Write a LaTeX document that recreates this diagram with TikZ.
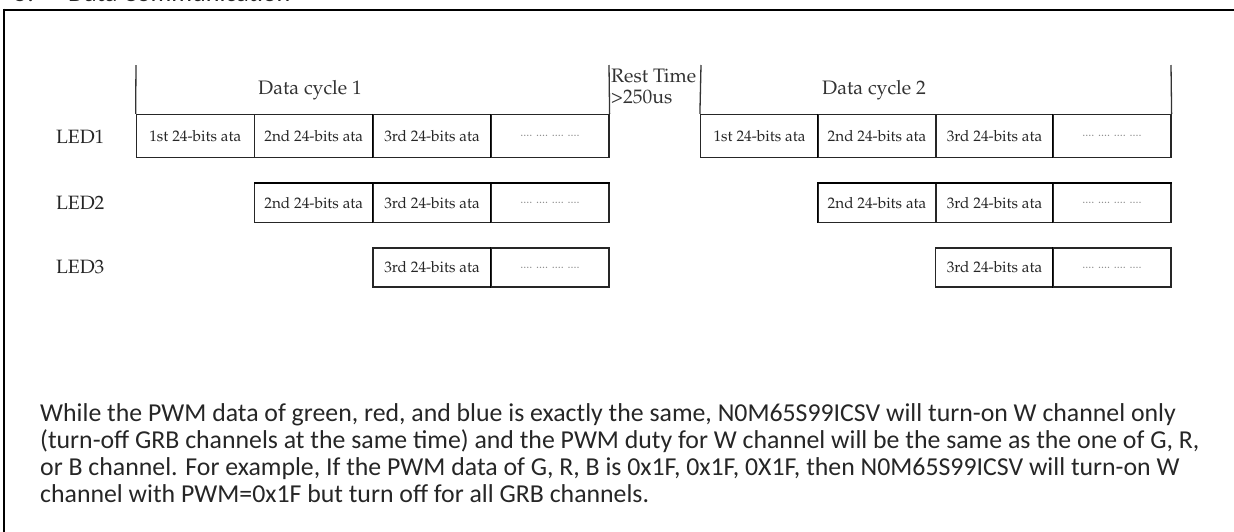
\documentclass[tikz,border=0pt]{standalone}
\usepackage[T1]{fontenc}
\usepackage{fontspec}
\newfontfamily\calfont{Carlito}
\newcommand\palfont{\fontencoding{T1}\fontfamily{ppl}\selectfont}
\tikzset{
  frameline/.style={line width=2.6pt, black},
  cell/.style={draw=black!85, line width=1.2pt, minimum width=118pt, inner sep=0pt,
    font=\palfont\fontsize{15.3}{17}\selectfont, text=black!85},
  hdr/.style={font=\palfont\fontsize{19.5}{21}\selectfont, text=black!80, inner sep=0pt},
  ledlbl/.style={font=\palfont\fontsize{19.3}{21}\selectfont, text=black!85, anchor=west, inner sep=0pt},
  hline/.style={draw=black!80, line width=1.3pt},
  thk/.style={draw=black, line width=2.4pt},
  para/.style={font=\calfont\fontsize{25.8}{27}\selectfont, text=black!85, anchor=base west, inner sep=0pt},
}
\newcommand\dotsrow{\textcolor{black!45}{\fontsize{12}{13}\selectfont .... .... .... ....}}
\begin{document}
\begin{tikzpicture}[x=1pt,y=-1pt]
\useasboundingbox (0,0) rectangle (1234,531);
% title (cut off at top, as in the reference)
\node[font=\calfont\fontsize{26}{28}\selectfont, anchor=base west, inner sep=0pt, text=black!85] (title5) at (14,1.5) {5.};
\node[font=\calfont\fontsize{26}{28}\selectfont, anchor=base west, inner sep=0pt, text=black!85] (title) at (68,1.5) {Data Communication};
% frame
\draw[frameline] (4,10) -- (1240,10);
\draw[frameline] (4,8.7) -- (4,540);
% header lines
\coordinate (h1a) at (136,65);
\coordinate (h1b) at (609,65);
\coordinate (h2a) at (701,65);
\coordinate (h2b) at (1171,65);
% LED1 cycle 1
\node[cell, minimum height=43pt] (a1) at (195.25,136) {1st 24-bits ata};
\node[cell, minimum height=43pt] (a2) at (313.75,136) {2nd 24-bits ata};
\node[cell, minimum height=43pt] (a3) at (432,136) {3rd 24-bits ata};
\node[cell, minimum height=43pt] (a4) at (550,136) {\dotsrow};
% LED1 cycle 2
\node[cell, minimum height=43pt] (b1) at (759.5,136) {1st 24-bits ata};
\node[cell, minimum height=43pt] (b2) at (877,136) {2nd 24-bits ata};
\node[cell, minimum height=43pt] (b3) at (994.5,136) {3rd 24-bits ata};
\node[cell, minimum height=43pt] (b4) at (1112,136) {\dotsrow};
% LED2
\node[cell, minimum height=39pt] (c2) at (313.75,203) {2nd 24-bits ata};
\node[cell, minimum height=39pt] (c3) at (432,203) {3rd 24-bits ata};
\node[cell, minimum height=39pt] (c4) at (550,203) {\dotsrow};
\node[cell, minimum height=39pt] (d2) at (877,203) {2nd 24-bits ata};
\node[cell, minimum height=39pt] (d3) at (994.5,203) {3rd 24-bits ata};
\node[cell, minimum height=39pt] (d4) at (1112,203) {\dotsrow};
% LED3
\node[cell, minimum height=39pt] (e3) at (432,267.5) {3rd 24-bits ata};
\node[cell, minimum height=39pt] (e4) at (550,267.5) {\dotsrow};
\node[cell, minimum height=39pt] (f3) at (994.5,267.5) {3rd 24-bits ata};
\node[cell, minimum height=39pt] (f4) at (1112,267.5) {\dotsrow};
% header verticals
\draw[hline] (h1a) -- (a1.north west);
\draw[hline] (h1b) -- (a4.north east);
\draw[hline] (h2a) -- (b1.north west);
\draw[hline] (h2b) -- (b4.north east);
% emphasis lines
\draw[thk] (c2.north west) -- (c4.north east);
\draw[thk] (d2.north west) -- (d4.north east);
\draw[line width=1.8pt] (a3.north west) -- (a3.south west) (a4.north west) -- (a4.south west);
\draw[line width=1.8pt] (c3.north west) -- (c3.south west) (c4.north west) -- (c4.south west);
\draw[line width=1.8pt] (e4.north west) -- (e4.south west);
\draw[line width=1.8pt] (b2.north west) -- (b2.south west) (b4.north west) -- (b4.south west);
\draw[line width=1.8pt] (d2.north west) -- (d2.south west) (d4.north west) -- (d4.south west);
\draw[line width=1.8pt] (f4.north west) -- (f4.south west);
% header texts
\node[hdr] (dc1) at (310,90) {Data cycle 1};
\node[hdr] (dc2) at (874,90) {Data cycle 2};
\node[hdr, anchor=north west, align=left, font=\palfont\fontsize{19.5}{21}\selectfont] (rest) at (611,69) {Rest Time\\>250us};
% LED labels
\node[ledlbl] (l1) at (56,137) {LED1};
\node[ledlbl] (l2) at (56,203) {LED2};
\node[ledlbl] (l3) at (56,267) {LED3};
% paragraph
\node[para] (p1) at (40,421) {While the PWM data of green, red, and blue is exactly the same, N0M65S99ICSV will turn-on W channel only};
\node[para] (p2) at (40,448) {(turn-off GRB channels at the same time) and the PWM duty for W channel will be the same as the one of G, R,};
\node[para] (p3) at (40,475) {or B channel. For example, If the PWM data of G, R, B is 0x1F, 0x1F, 0X1F, then N0M65S99ICSV will turn-on W};
\node[para] (p4) at (40,502) {channel with PWM=0x1F but turn off for all GRB channels.};
\end{tikzpicture}
\end{document}
